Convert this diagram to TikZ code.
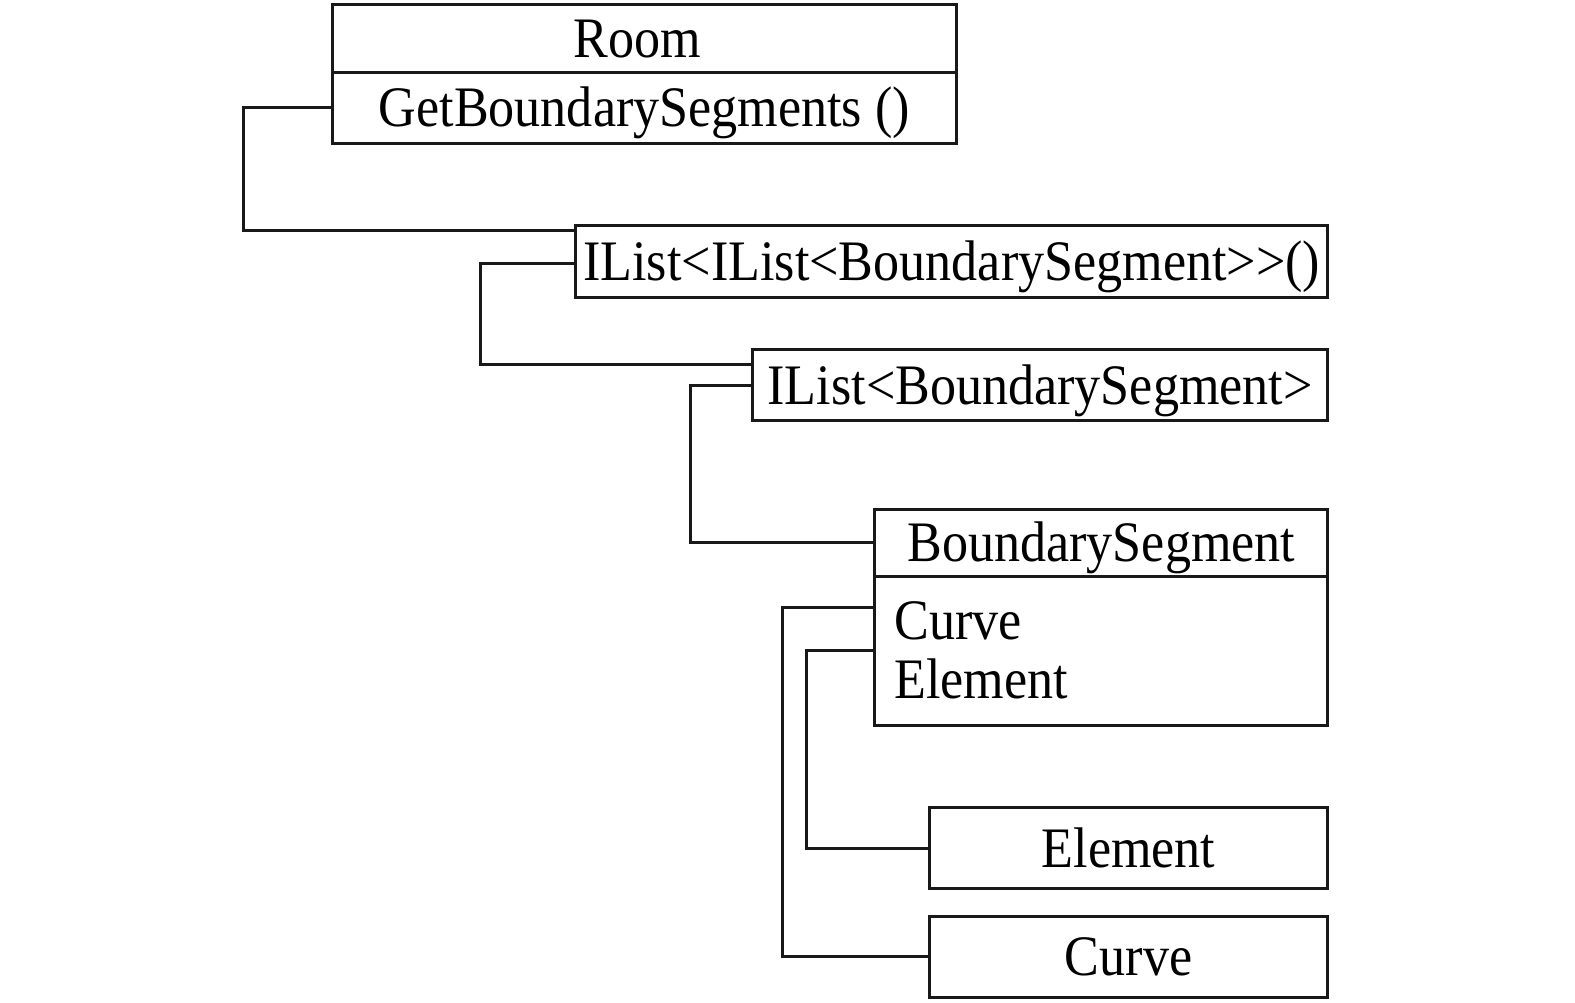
\documentclass[tikz,border=0pt]{standalone}
\usepackage{fontspec}
\setmainfont[FakeStretch=0.91, Ligatures=TeXOff]{Liberation Serif}
\usetikzlibrary{calc}
\begin{document}
\begin{tikzpicture}[x=0.5pt,y=-0.5pt,
  umlbox/.style={draw=black!90, line width=1.5pt, rectangle, inner sep=0pt,
    font=\fontsize{28.5}{29}\selectfont, text height=18.8pt, text depth=0pt},
  conn/.style={draw=black!90, line width=1.5pt},
  plain/.style={inner sep=0pt, font=\fontsize{28.5}{29}\selectfont}]
\useasboundingbox (0,0) rectangle (1568,998);
% nodes
\node[umlbox, minimum width=310.5pt, minimum height=34pt] (roomtitle) at (641.5,38) {\hspace*{-7pt}Room};
\node[umlbox, minimum width=310.5pt, minimum height=35.5pt] (roommeth) at (641.5,107.5) {GetBoundarySegments ()};
\node[umlbox, minimum width=374.5pt, minimum height=36pt] (ilist2) at (947.5,260) {IList<IList<BoundarySegment>{}>()};
\node[umlbox, minimum width=286.5pt, minimum height=35.5pt] (ilist1) at (1035.5,383.5) {IList<BoundarySegment>};
\node[umlbox, minimum width=225.5pt, minimum height=33.5pt] (bstitle) at (1096.5,540.5) {BoundarySegment};
\node[umlbox, minimum width=225.5pt, minimum height=74pt] (bsbody) at (1096.5,648) {};
\node[plain, anchor=base west] (fcurve) at (890,637) {Curve};
\node[plain, anchor=base west] (felement) at (890,695) {Element};
\node[umlbox, minimum width=198.5pt, minimum height=40.5pt] (element) at (1123.5,844.5) {Element};
\node[umlbox, minimum width=198.5pt, minimum height=40.5pt] (curve) at (1123.5,952.5) {Curve};
% connectors
\draw[conn] (roommeth.west) -- ++(-87,0) |- ($(ilist2.north west)!0.097!(ilist2.south west)$);
\draw[conn] ($(ilist2.north west)!0.53!(ilist2.south west)$) -- ++(-93,0) |- ($(ilist1.north west)!0.225!(ilist1.south west)$);
\draw[conn] (ilist1.west) -- ++(-60,0) |- (bstitle.west);
\draw[conn] ($(bsbody.north west)!0.216!(bsbody.south west)$) -- ++(-90,0) |- (curve.west);
\draw[conn] (bsbody.west) -- ++(-67,0) |- (element.west);
\end{tikzpicture}
\end{document}
